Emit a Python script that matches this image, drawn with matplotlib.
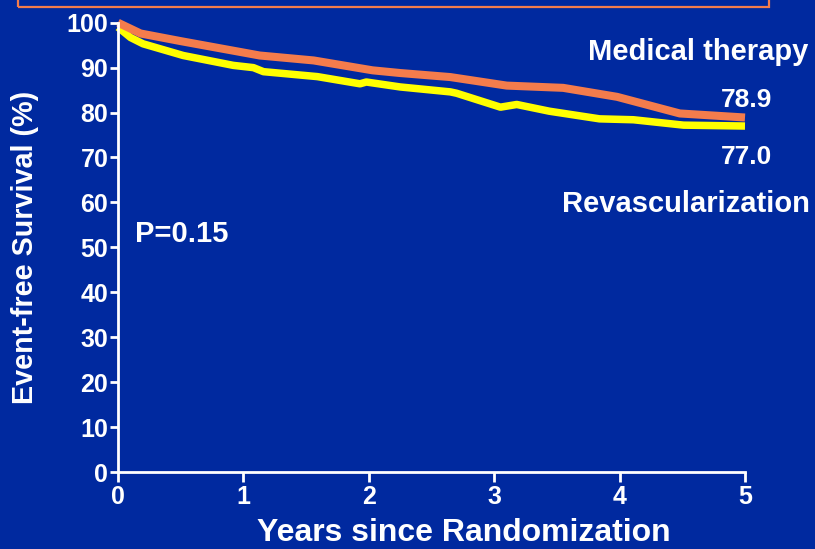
import matplotlib.pyplot as plt
from matplotlib.patches import Rectangle

# survival curves, percent event-free
years_med = [0, 0.18, 0.5, 1.13, 1.56, 2.03, 2.25, 2.65, 3.10, 3.55, 3.98, 4.48, 5.0]
surv_med = [100, 97.6, 95.9, 92.7, 91.6, 89.4, 88.8, 87.9, 86.0, 85.5, 83.5, 79.8, 78.9]

years_rev = [0, 0.1, 0.2, 0.52, 0.92, 1.08, 1.16, 1.59, 1.93, 1.98, 2.25, 2.65, 2.70,
             3.05, 3.18, 3.44, 3.84, 4.11, 4.51, 5.0]
surv_rev = [99.0, 96.7, 95.3, 92.7, 90.5, 90.0, 89.1, 88.0, 86.4, 86.8, 85.7, 84.6, 84.3,
            81.2, 81.8, 80.3, 78.6, 78.4, 77.2, 77.0]

yticks = list(range(0, 101, 10))
xticks = [0, 1, 2, 3, 4, 5]

bg = '#00299f'
orange = '#f47c4c'
yellow = '#ffff00'

plt.rcParams['font.family'] = ['Liberation Sans', 'DejaVu Sans']
plt.rcParams['font.weight'] = 'bold'

fig = plt.figure(figsize=(8.15, 5.49), dpi=100, facecolor=bg)
ax = fig.add_axes([118 / 815, 1 - 472 / 549, (745 - 118) / 815, (472 - 22.7) / 549])
ax.set_facecolor(bg)

ax.plot(years_rev, surv_rev, color=yellow, lw=5.4, solid_capstyle='butt', clip_on=False)
ax.plot(years_med, surv_med, color=orange, lw=5.8, solid_capstyle='butt', clip_on=False)

ax.set_xlim(0, 5)
ax.set_ylim(0, 100)
ax.set_xticks(xticks)
ax.set_yticks(yticks)

for s in ['top', 'right']:
    ax.spines[s].set_visible(False)
for s in ['left', 'bottom']:
    ax.spines[s].set_color('white')
    ax.spines[s].set_linewidth(2)

ax.tick_params(axis='y', colors='white', length=6, width=2, pad=1, labelsize=18)
ax.tick_params(axis='x', colors='white', length=7, width=2, pad=2, labelsize=18)
for lbl in ax.get_xticklabels() + ax.get_yticklabels():
    lbl.set_fontweight('bold')

# axis titles
fig.text(464 / 815, 1 - 533 / 549, 'Years since Randomization', color='white',
         fontsize=23, fontweight='bold', ha='center', va='center')
fig.text(25 / 815, 1 - 247 / 549, 'Event-free Survival (%)', color='white',
         fontsize=20.7, fontweight='bold', ha='center', va='center', rotation=90)

# curve labels
fig.text(808 / 815, 1 - 52 / 549, 'Medical therapy', color='white', fontsize=21,
         fontweight='bold', ha='right', va='center')
fig.text(772 / 815, 1 - 100 / 549, '78.9', color='white', fontsize=19,
         fontweight='bold', ha='right', va='center')
fig.text(772 / 815, 1 - 157 / 549, '77.0', color='white', fontsize=19,
         fontweight='bold', ha='right', va='center')
fig.text(810 / 815, 1 - 204 / 549, 'Revascularization', color='white', fontsize=21,
         fontweight='bold', ha='right', va='center')
fig.text(135 / 815, 1 - 234 / 549, 'P=0.15', color='white', fontsize=21,
         fontweight='bold', ha='left', va='center')

# framed title box running off the top edge
fig.patches.append(Rectangle((17.5 / 815, 1 - 7 / 549), (769 - 17.5) / 815, 20 / 549,
                             transform=fig.transFigure, fill=False, edgecolor=orange,
                             lw=1.6, clip_on=False))

fig.savefig('out.png', dpi=100, facecolor=bg)
